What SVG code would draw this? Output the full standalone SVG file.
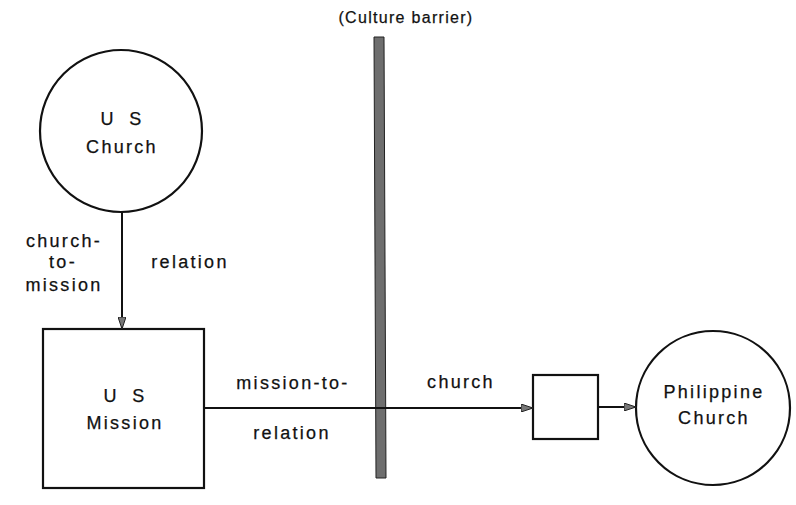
<svg xmlns="http://www.w3.org/2000/svg" width="796" height="505" viewBox="0 0 796 505">
<style>
text{font-family:"Liberation Sans",Arial,sans-serif;font-size:18px;fill:#111;letter-spacing:2.3px;text-anchor:middle;stroke:#111;stroke-width:0.25}
.us{word-spacing:6px}
.shape{fill:none;stroke:#111;stroke-width:2.2}
.conn{fill:none;stroke:#111;stroke-width:2}
</style>
<defs>
<marker id="arr" viewBox="0 0 12 8" refX="12" refY="4" markerWidth="12" markerHeight="8" markerUnits="userSpaceOnUse" orient="auto">
<path d="M0,0 L12,4 L0,8 Z" fill="#777" stroke="#222" stroke-width="1"/>
</marker>
</defs>
<rect width="796" height="505" fill="#fff"/>
<g id="barrier">
<text x="406" y="23" style="font-size:16px;letter-spacing:1.3px">(Culture barrier)</text>
<polygon points="374,37 384,37 386,478 376,478" fill="#6e6e6e" stroke="#222" stroke-width="1"/>
</g>
<g id="us-church">
<circle class="shape" cx="121" cy="131" r="81"/>
<text class="us" x="122" y="125">U S</text>
<text x="122" y="153">Church</text>
</g>
<g id="us-mission">
<rect class="shape" x="43" y="329" width="161" height="159"/>
<text class="us" x="125" y="402">U S</text>
<text x="125" y="429">Mission</text>
</g>
<g id="intermediary">
<rect class="shape" x="533" y="375" width="65" height="64"/>
</g>
<g id="philippine-church">
<circle class="shape" cx="713" cy="408" r="77"/>
<text x="714" y="398">Philippine</text>
<text x="714" y="424">Church</text>
</g>
<g id="connectors">
<line class="conn" x1="122" y1="212" x2="122" y2="329" marker-end="url(#arr)"/>
<line class="conn" x1="204" y1="408" x2="533" y2="408" marker-end="url(#arr)"/>
<line class="conn" x1="598" y1="407" x2="636" y2="407" marker-end="url(#arr)"/>
</g>
<g id="labels">
<text x="64" y="247">church-</text>
<text x="63" y="268">to-</text>
<text x="64" y="291">mission</text>
<text x="190" y="268">relation</text>
<text x="293" y="389">mission-to-</text>
<text x="292" y="439">relation</text>
<text x="461" y="388">church</text>
</g>
</svg>
